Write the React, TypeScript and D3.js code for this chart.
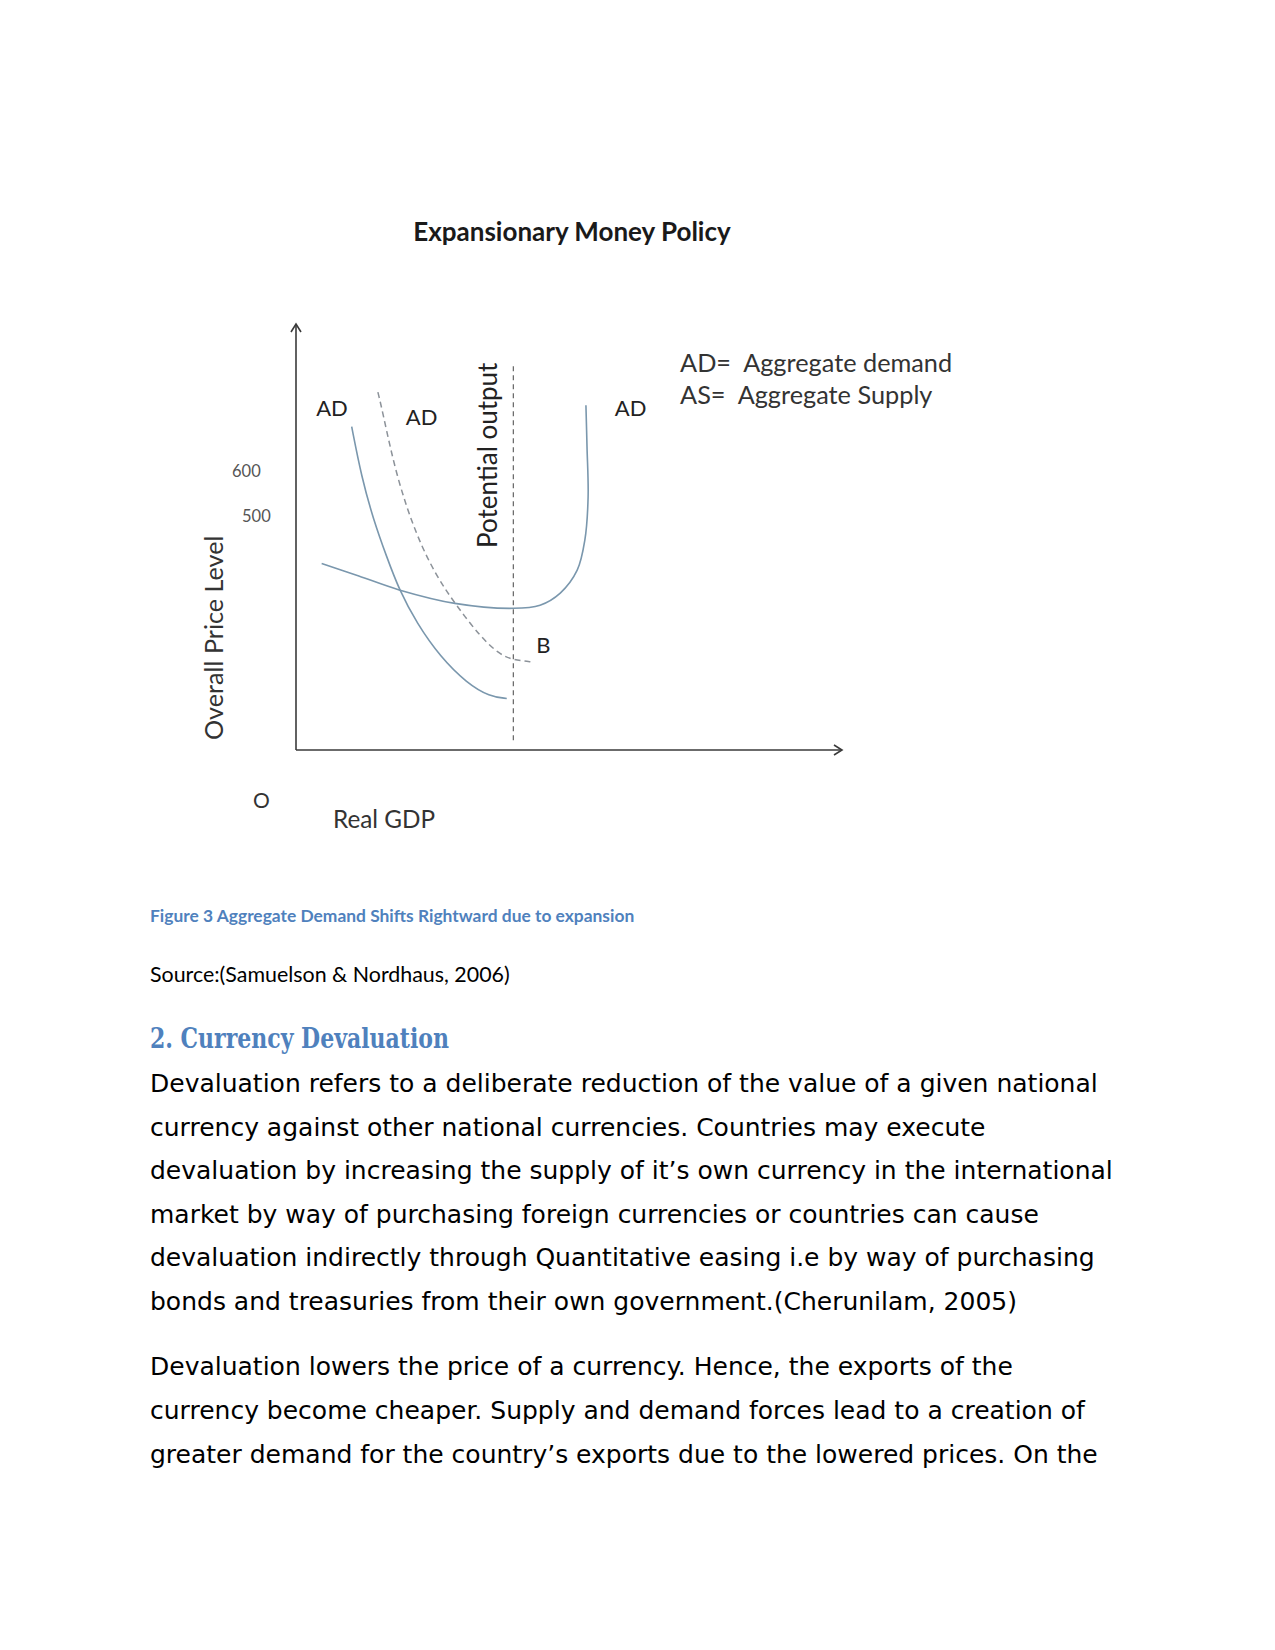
import React from "react";
import * as d3 from "d3";

// ---- Data (diagram coordinates: x = real GDP units 0..100, y = price level units) ----
const adCurveOriginal: [number, number][] = [
  [10.2, 721], [12.0, 609], [14.2, 513], [16.6, 431], [18.9, 357], [22.1, 283],
  [26.4, 208], [31.3, 149], [35.5, 119], [38.6, 115],
];
const adCurveShifted: [number, number][] = [
  [15.0, 798], [15.8, 758], [18.4, 609], [22.1, 476], [25.8, 386], [29.1, 327],
  [33.7, 253], [37.4, 212], [39.8, 201], [43.4, 196],
];
const asCurve: [number, number][] = [
  [4.7, 416], [11.5, 388], [18.9, 357], [29.1, 327], [39.8, 316], [44.7, 323],
  [48.4, 350], [51.5, 401], [52.9, 468], [53.5, 564], [53.3, 676], [53.1, 769],
];
const potentialOutputX = 39.8;
const potentialOutputRange: [number, number] = [18, 856];
const yTickLabels = ["600", "500"];
const yTickValues = [600, 500];
const curveLabels = [
  { text: "AD", x: 3.7, y: 745 },
  { text: "AD", x: 20.1, y: 725 },
  { text: "AD", x: 58.4, y: 745 },
  { text: "B", x: 44.0, y: 216 },
];
const legendLines = ["AD=  Aggregate demand", "AS=  Aggregate Supply"];
const chartTitle = "Expansionary Money Policy";
const yAxisTitle = "Overall Price Level";
const xAxisTitle = "Real GDP";
const originLabel = "O";
const potentialLabel = "Potential output";

const captionText = "Figure 3 Aggregate Demand Shifts Rightward due to expansion";
const sourceText = "Source:(Samuelson & Nordhaus, 2006)";
const headingText = "2. Currency Devaluation";
const paragraph1 = [
  "Devaluation refers to a deliberate reduction of the value of a given national",
  "currency against other national currencies. Countries may execute",
  "devaluation by increasing the supply of it\u2019s own currency in the international",
  "market by way of purchasing foreign currencies or countries can cause",
  "devaluation indirectly through Quantitative easing i.e by way of purchasing",
  "bonds and treasuries from their own government.(Cherunilam, 2005)",
];
const paragraph2 = [
  "Devaluation lowers the price of a currency. Hence, the exports of the",
  "currency become cheaper. Supply and demand forces lead to a creation of",
  "greater demand for the country\u2019s exports due to the lowered prices. On the",
];

export default function App() {
  const W = 1275;
  const H = 1650;
  const x = d3.scaleLinear().domain([0, 100]).range([296, 842]);
  const y = d3.scaleLinear().domain([0, 950]).range([750, 324]);
  const smooth = d3
    .line<[number, number]>()
    .x((d) => x(d[0]))
    .y((d) => y(d[1]))
    .curve(d3.curveBasis);
  const through = d3
    .line<[number, number]>()
    .x((d) => x(d[0]))
    .y((d) => y(d[1]))
    .curve(d3.curveCatmullRom.alpha(0.5));

  const chartFont = "Lato, 'Open Sans', sans-serif";
  const curveColor = "#7a97ad";
  const axisColor = "#3a3a3a";
  const x0 = x(0);
  const y0 = y(0);
  const xEnd = x(100);
  const yTop = y(950);

  return (
    <svg
      width={W}
      height={H}
      viewBox={`0 0 ${W} ${H}`}
      style={{ position: "absolute", left: 0, top: 0, background: "#fff" }}
    >
      <rect x={0} y={0} width={W} height={H} fill="#fff" />
      {/* Title */}
      <text x={572} y={241} textAnchor="middle" fontFamily={chartFont} fontWeight={700} fontSize={26} fill="#1a1a1a">
        {chartTitle}
      </text>

      {/* Axes */}
      <line x1={x0} y1={y0} x2={x0} y2={yTop} stroke={axisColor} strokeWidth={1.6} />
      <polyline points={`${x0 - 5},${yTop + 8} ${x0},${yTop} ${x0 + 5},${yTop + 8}`} fill="none" stroke={axisColor} strokeWidth={1.6} />
      <line x1={x0} y1={y0} x2={xEnd} y2={y0} stroke={axisColor} strokeWidth={1.6} />
      <polyline points={`${xEnd - 8},${y0 - 5} ${xEnd},${y0} ${xEnd - 8},${y0 + 5}`} fill="none" stroke={axisColor} strokeWidth={1.6} />

      {/* Potential output line */}
      <line
        x1={x(potentialOutputX)}
        x2={x(potentialOutputX)}
        y1={y(potentialOutputRange[1])}
        y2={y(potentialOutputRange[0])}
        stroke="#555"
        strokeWidth={1.1}
        strokeDasharray="5,4"
      />
      <text
        transform={`translate(${x(potentialOutputX) - 16},548) rotate(-90)`}
        fontFamily={chartFont}
        fontSize={26}
        fill="#222"
      >
        {potentialLabel}
      </text>

      {/* Curves */}
      <path d={smooth(adCurveOriginal) || ""} fill="none" stroke={curveColor} strokeWidth={1.6} />
      <path d={smooth(adCurveShifted) || ""} fill="none" stroke="#8c9299" strokeWidth={1.5} strokeDasharray="6,4" />
      <path d={through(asCurve) || ""} fill="none" stroke={curveColor} strokeWidth={1.6} />

      {/* Curve labels */}
      {curveLabels.map((l, i) => (
        <text key={i} x={x(l.x)} y={y(l.y)} fontFamily={chartFont} fontSize={22} fill="#222">
          {l.text}
        </text>
      ))}

      {/* Legend */}
      {legendLines.map((t, i) => (
        <text key={i} x={680} y={372 + i * 32} fontFamily={chartFont} fontSize={25.3} fill="#333" style={{ whiteSpace: "pre" }}>
          {t}
        </text>
      ))}

      {/* Y tick labels */}
      {yTickValues.map((v, i) => (
        <text key={i} x={232 + i * 10} y={y(v) - 4} fontFamily={chartFont} fontSize={16.5} fill="#555">
          {yTickLabels[i]}
        </text>
      ))}

      {/* Axis titles */}
      <text transform={`translate(223,740) rotate(-90)`} fontFamily={chartFont} fontSize={25.2} fill="#333">
        {yAxisTitle}
      </text>
      <text x={253} y={808} fontFamily={chartFont} fontSize={21} fill="#333">
        {originLabel}
      </text>
      <text x={333} y={828} fontFamily={chartFont} fontSize={24.3} fill="#333">
        {xAxisTitle}
      </text>

      {/* Document text below */}
      <text x={150} y={922} fontFamily={chartFont} fontWeight={700} fontSize={17.4} fill="#4F81BD">
        {captionText}
      </text>
      <text x={150} y={982} fontFamily={chartFont} fontSize={21.4} fill="#000">
        {sourceText}
      </text>
      <text
        x={150}
        y={1048}
        fontFamily="'DejaVu Serif Condensed', 'DejaVu Serif', serif"
        fontWeight={700}
        fontSize={27}
        fill="#4F81BD"
        textLength={299}
        lengthAdjust="spacingAndGlyphs"
      >
        {headingText}
      </text>
      {paragraph1.map((t, i) => (
        <text key={i} x={150} y={1092 + i * 43.6} fontFamily="'DejaVu Sans', sans-serif" fontSize={25} fill="#000">
          {t}
        </text>
      ))}
      {paragraph2.map((t, i) => (
        <text key={i} x={150} y={1375 + i * 44} fontFamily="'DejaVu Sans', sans-serif" fontSize={25} fill="#000">
          {t}
        </text>
      ))}
    </svg>
  );
}
